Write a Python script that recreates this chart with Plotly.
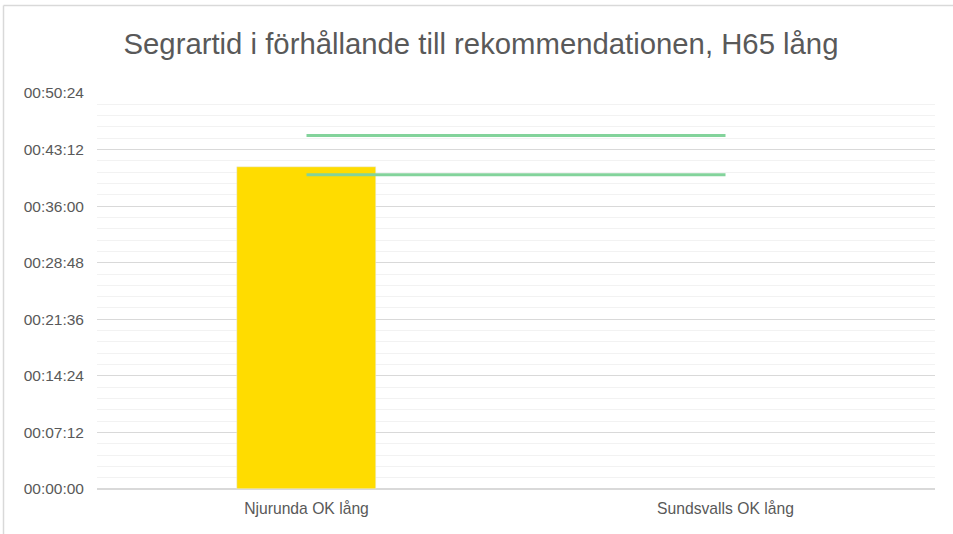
import plotly.graph_objects as go

categories = ["Njurunda OK lång", "Sundsvalls OK lång"]
winner_seconds = [2460, None]          # segrartid (s)
rec_low_seconds = [2400, 2400]         # rekommendation, nedre (40:00)
rec_high_seconds = [2700, 2700]        # rekommendation, övre (45:00)
tick_seconds = [0, 432, 864, 1296, 1728, 2160, 2592, 3024]

def fmt(s):
    return f"{s//3600:02d}:{(s%3600)//60:02d}:{s%60:02d}"

tick_text = [fmt(s) for s in tick_seconds]

fig = go.Figure()
fig.add_trace(go.Bar(x=categories, y=winner_seconds, marker_color="#FFDC00",
                     width=0.334, name="Segrartid"))
fig.add_trace(go.Scatter(x=categories, y=rec_high_seconds, mode="lines",
                         line=dict(color="#83D39B", width=3), name="Max"))
fig.add_trace(go.Scatter(x=categories, y=rec_low_seconds, mode="lines",
                         line=dict(color="#83D39B", width=3), name="Min"))

W, H = 953, 534
L, T = 97, 93
R = W - 935
B = H - 489
pw, ph = W - L - R, H - T - B

bx0 = (3.5 - L) / pw
bx1 = (W - L) / pw
by0 = -B / ph
by1 = (H - B - 5.5) / ph
border = dict(color="#D9D9D9", width=1.5)

fig.update_layout(
    width=W, height=H,
    margin=dict(l=L, r=R, t=T, b=B),
    paper_bgcolor="white", plot_bgcolor="white",
    showlegend=False,
    font=dict(family="Liberation Sans, Arial, sans-serif", color="#595959", size=15),
    title=dict(text="Segrartid i förhållande till rekommendationen, H65 lång",
               x=481 / W, xanchor="center", y=1 - 44 / H, yanchor="middle",
               font=dict(size=29.3, color="#595959")),
    bargap=0,
    xaxis=dict(showgrid=False, showline=False, ticks="", tickfont=dict(size=15.7),
               range=[-0.5, 1.5], ticklabelstandoff=8),
    yaxis=dict(range=[0, 3024], tickvals=tick_seconds, ticktext=tick_text,
               showgrid=True, gridcolor="#D9D9D9", gridwidth=1.2,
               zeroline=True, zerolinecolor="#D9D9D9", zerolinewidth=1.5,
               showline=False, ticks="", ticklabelstandoff=12,
               tickfont=dict(size=15.5),
               minor=dict(dtick=86.4, tick0=0, showgrid=True,
                          gridcolor="#F2F2F2", gridwidth=1.2)),
    shapes=[
        dict(type="line", xref="paper", yref="paper", x0=bx0, x1=bx1, y0=by1, y1=by1,
             line=border, layer="below"),
        dict(type="line", xref="paper", yref="paper", x0=bx0, x1=bx0, y0=by0, y1=by1,
             line=border, layer="below"),
    ],
)

fig.write_html("out.html",
               config={"displayModeBar": False},
               post_script=("document.body.style.margin='0px';"
                            "document.body.style.padding='0px';"
                            "document.body.style.overflow='hidden';"
                            "document.documentElement.style.overflow='hidden';"))
